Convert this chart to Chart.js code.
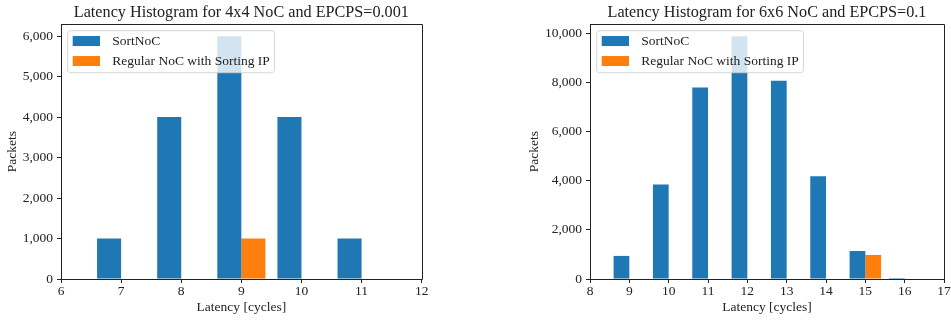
<!DOCTYPE html>
<html><head><meta charset="utf-8">
<script src="https://cdn.jsdelivr.net/npm/chart.js@4/dist/chart.umd.min.js"></script>
<style>
html,body{margin:0;padding:0;background:#fff;width:951px;height:320px;overflow:hidden;position:relative}
canvas{position:absolute;top:0}
</style></head>
<body>
<canvas id="c1" width="470" height="320" style="left:0px"></canvas>
<canvas id="c2" width="471" height="320" style="left:480px"></canvas>
<script>
// ---- data ----
const seriesNames = ['SortNoC', 'Regular NoC with Sorting IP'];
const seriesColors = ['#1f77b4', '#ff7f0e'];

const leftTitle = 'Latency Histogram for 4x4 NoC and EPCPS=0.001';
const leftSortLatency = [7, 8, 9, 10, 11];
const leftSortPackets = [1000, 4000, 6000, 4000, 1000];
const leftRegLatency = [9];
const leftRegPackets = [1000];
const leftXTicks = [6, 7, 8, 9, 10, 11, 12];
const leftYTicks = [0, 1000, 2000, 3000, 4000, 5000, 6000];

const rightTitle = 'Latency Histogram for 6x6 NoC and EPCPS=0.1';
const rightSortLatency = [9, 10, 11, 12, 13, 14, 15, 16];
const rightSortPackets = [940, 3850, 7800, 9890, 8080, 4190, 1140, 40];
const rightRegLatency = [15];
const rightRegPackets = [980];
const rightXTicks = [8, 9, 10, 11, 12, 13, 14, 15, 16, 17];
const rightYTicks = [0, 2000, 4000, 6000, 8000, 10000];

const xLabel = 'Latency [cycles]';
const yLabel = 'Packets';

// ---- styling ----
const FONT = '"Liberation Serif", "Times New Roman", serif';
const TXT = '#222';

const frameAndLegend = {
  id: 'frameAndLegend',
  afterDatasetsDraw(chart) {
    const ctx = chart.ctx, a = chart.chartArea;
    ctx.save();
    // axes frame (all four spines)
    ctx.strokeStyle = TXT; ctx.lineWidth = 1;
    const l = Math.round(a.left) + 0.5, t = Math.round(a.top) + 0.5;
    const r = Math.round(a.right) + 0.5, b = Math.round(a.bottom) + 0.5;
    ctx.beginPath();
    ctx.moveTo(l, b); ctx.lineTo(l, t); ctx.lineTo(r, t); ctx.lineTo(r, b); ctx.lineTo(l, b);
    ctx.stroke();
    // legend
    ctx.font = '13.5px ' + FONT;
    const ds = chart.data.datasets;
    const tw = Math.max(...ds.map(d => ctx.measureText(d.label).width));
    const x = a.left + 6.7, y = a.top + 6.7;
    const w = 44.6 + tw + 4.7, h = 42, rad = 3;
    ctx.beginPath();
    ctx.moveTo(x + rad, y);
    ctx.arcTo(x + w, y, x + w, y + h, rad);
    ctx.arcTo(x + w, y + h, x, y + h, rad);
    ctx.arcTo(x, y + h, x, y, rad);
    ctx.arcTo(x, y, x + w, y, rad);
    ctx.closePath();
    ctx.fillStyle = 'rgba(255,255,255,0.8)';
    ctx.fill();
    ctx.strokeStyle = 'rgba(204,204,204,0.8)';
    ctx.stroke();
    ds.forEach((d, i) => {
      const cy = y + 10.3 + 20 * i;
      ctx.fillStyle = d.backgroundColor;
      ctx.fillRect(x + 5, cy - 5, 27.3, 10);
      ctx.fillStyle = TXT;
      ctx.textBaseline = 'middle';
      ctx.textAlign = 'left';
      ctx.fillText(d.label, x + 44.6, cy + 0.5);
    });
    ctx.restore();
  }
};

function makeChart(id, cfg) {
  const toPts = (xs, ys) => xs.map((v, i) => ({ x: v, y: ys[i] }));
  return new Chart(document.getElementById(id), {
    type: 'bar',
    data: {
      datasets: [
        { label: seriesNames[0], data: toPts(cfg.sortX, cfg.sortY), backgroundColor: seriesColors[0],
          categoryPercentage: 0.8, barPercentage: 1.0, borderWidth: 0 },
        { label: seriesNames[1], data: toPts(cfg.regX, cfg.regY), backgroundColor: seriesColors[1],
          categoryPercentage: 0.8, barPercentage: 1.0, borderWidth: 0 }
      ]
    },
    options: {
      responsive: false,
      animation: false,
      events: [],
      layout: { padding: { left: cfg.padLeft, right: cfg.padRight, top: 0, bottom: 0 } },
      plugins: {
        legend: { display: false },
        tooltip: { enabled: false },
        title: {
          display: true, text: cfg.title, fullSize: false, color: TXT,
          font: { family: FONT, size: 16.2, weight: 'normal', lineHeight: 1.2 },
          padding: { top: 2.8, bottom: 1.8 }
        }
      },
      scales: {
        x: {
          type: 'linear', offset: false, min: cfg.xTicks[0], max: cfg.xTicks[cfg.xTicks.length - 1],
          afterBuildTicks: s => { s.ticks = cfg.xTicks.map(v => ({ value: v })); },
          afterFit: s => { s.height = 41; },
          grid: { offset: false, drawOnChartArea: false, drawTicks: true, tickLength: 4, color: TXT },
          border: { display: true, color: TXT },
          ticks: { color: TXT, padding: 0, maxRotation: 0, autoSkip: false,
                   font: { family: FONT, size: 13.5 }, callback: v => String(v) },
          title: { display: true, text: xLabel, color: TXT, font: { family: FONT, size: 13.5 },
                   padding: { top: 0, bottom: 4.4 } }
        },
        y: {
          type: 'linear', min: 0, max: cfg.yMax,
          afterBuildTicks: s => { s.ticks = cfg.yTicks.map(v => ({ value: v })); },
          afterFit: s => { s.width = cfg.yWidth; },
          grid: { drawOnChartArea: false, drawTicks: true, tickLength: 4, color: TXT },
          border: { display: true, color: TXT },
          ticks: { color: TXT, padding: 4, font: { family: FONT, size: 13.5 },
                   callback: v => Number(v).toLocaleString('en-US') },
          title: { display: true, text: yLabel, color: TXT, font: { family: FONT, size: 13.5 },
                   padding: { top: cfg.yTitlePad, bottom: 0 } }
        }
      }
    },
    plugins: [frameAndLegend]
  });
}

makeChart('c1', {
  title: leftTitle, sortX: leftSortLatency, sortY: leftSortPackets,
  regX: leftRegLatency, regY: leftRegPackets, xTicks: leftXTicks, yTicks: leftYTicks,
  yMax: 6300, padLeft: 0, padRight: 48.3, yWidth: 61, yTitlePad: 4
});
makeChart('c2', {
  title: rightTitle, sortX: rightSortLatency, sortY: rightSortPackets,
  regX: rightRegLatency, regY: rightRegPackets, xTicks: rightXTicks, yTicks: rightYTicks,
  yMax: 10385, padLeft: 40, padRight: 7, yWidth: 70, yTitlePad: 6
});
</script>
</body></html>
